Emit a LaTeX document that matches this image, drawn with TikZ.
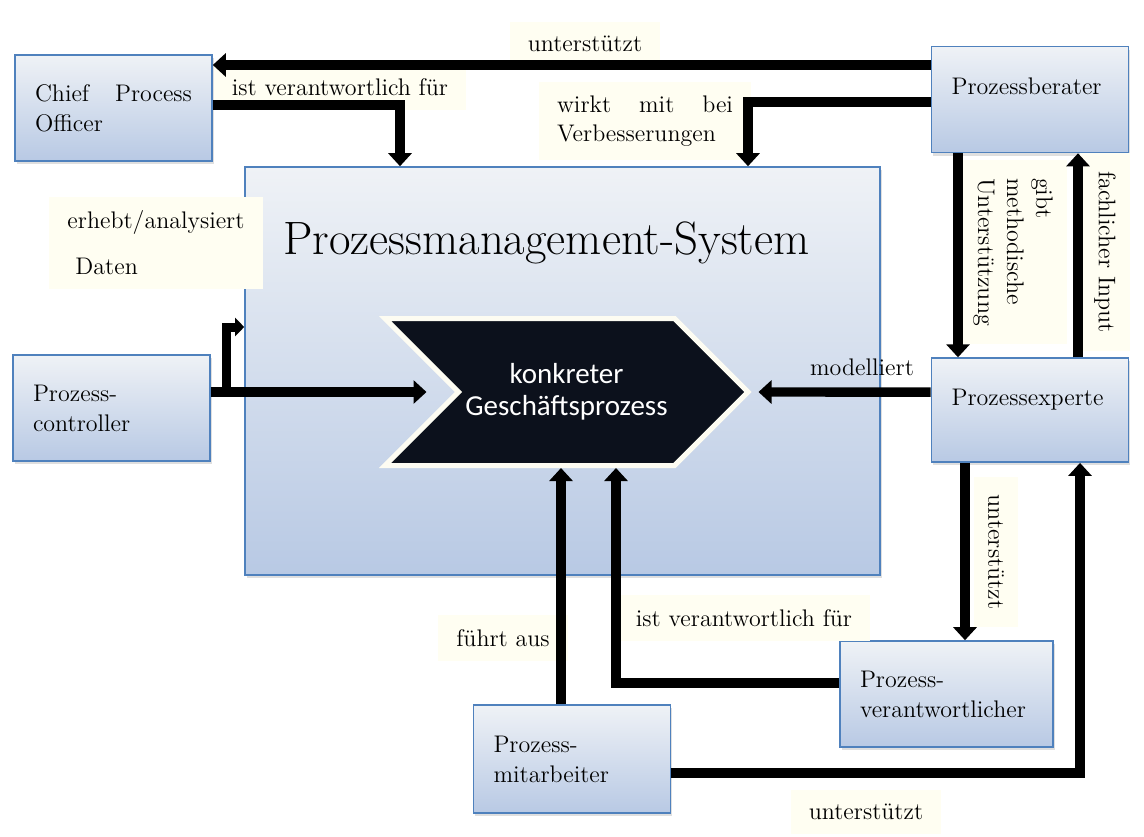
\documentclass[tikz,border=0pt]{standalone}
\usepackage{fontspec}
\usepackage{tikz}
\usetikzlibrary{positioning, arrows.meta, shapes.symbols, shadows}

\newfontfamily\calibri{Carlito}
\definecolor{boxblue}{RGB}{79,129,189}
\definecolor{boxtop}{RGB}{239,242,246}
\definecolor{boxbot}{RGB}{184,201,228}
\definecolor{labelbg}{RGB}{255,254,242}
\definecolor{procfill}{RGB}{12,17,28}
\definecolor{procrim}{RGB}{253,252,242}

\tikzset{
	actor/.style={draw=boxblue, line width=0.8pt, top color=boxtop, bottom color=boxbot,
		minimum height=53pt, text width=78.5pt, inner xsep=10pt, align=left,
		font=\fontsize{12}{15}\selectfont,
		drop shadow={opacity=0.25, shadow xshift=0.8pt, shadow yshift=-1.6pt}},
	lab/.style={fill=labelbg, inner xsep=9pt, inner ysep=7pt, font=\fontsize{12}{14.5}\selectfont},
	flow/.style={line width=4.7pt, -{Triangle[width=11.5pt,length=6.5pt]}},
	flowsmall/.style={line width=4.5pt, -{Triangle[width=9pt,length=4.5pt]}},
}

\begin{document}
\begin{tikzpicture}[x=0.5pt, y=-0.5pt]
		\useasboundingbox (0,0) rectangle (1144,836);
		% system box and process
		\node[draw=boxblue, line width=0.8pt, top color=boxtop, bottom color=boxbot,
			minimum width=317.5pt, minimum height=204pt,
			drop shadow={opacity=0.25, shadow xshift=0.8pt, shadow yshift=-1.6pt}] (sys) at (562.5,371) {};
		\node[font=\fontsize{23.4}{28}\selectfont] (title) at (546.5,243) {Prozessmanagement-System};
		\node[signal, signal from=west, signal to=east, signal pointer angle=90,
			fill=procfill, draw=procrim, line width=2.5pt, minimum width=181.5pt, minimum height=73.5pt,
			text=white, align=center, font=\calibri\fontsize{14.5}{16}\selectfont] (proc) at (566.5,392) {konkreter\\Geschäftsprozess};
		% roles
		\node[actor] (cpo) at (113.5,108) {Chief\hfill Process\\Officer};
		\node[actor, text depth=13pt] (pb) at (1030,99.5) {Prozessberater};
		\node[actor, text depth=13pt, minimum height=52pt, below=102pt of pb] (pe) {Prozessexperte};
		\node[actor] (pc) at (111.5,408) {Prozess-\\controller};
		\node[actor, text width=86.5pt] (pv) at (946.5,694) {Prozess-\\verantwortlicher};
		\node[actor, minimum height=54pt] (pm) at (572,759) {Prozess-\\mitarbeiter};
		% labels
		\node[lab] (l1) at (585,44) {unterstützt};
		\node[lab] (l2) at (340,87) {ist verantwortlich für};
		\node[lab, text width=88pt, align=left] (l3) at (645,121) {wirkt\hfill mit\hfill bei\\Verbesserungen};
		\node[lab, align=left, font=\fontsize{12}{23}\selectfont] (l4) at (156,243) {erhebt/analysiert\\\hspace{4pt}Daten};
		\node[lab, fill=none] (l5) at (862,367) {modelliert};
		\node[lab, rotate=-90, align=left] (l6) at (1013,252) {gibt\\methodische\\Unterstützung};
		\node[lab, rotate=-90] (l7) at (1105,252) {fachlicher Input};
		\node[lab, rotate=-90] (l8) at (996,552) {unterstützt};
		\node[lab] (l9) at (503,638) {führt aus};
		\node[lab] (l10) at (744,618) {ist verantwortlich für};
		\node[lab] (l11) at (866,812) {unterstützt};
		% connectors
		\draw[flow] ([yshift=17.25pt]pb.west) -- ([yshift=21.5pt]cpo.east);
		\draw[flow] ([yshift=1.5pt]cpo.east) -| ([xshift=-81.25pt]sys.north);
		\draw[flow] ([yshift=-1.25pt]pb.west) -| ([xshift=92.75pt]sys.north);
		\draw[flow] ([xshift=-36pt]pb.south) -- ([xshift=-36pt]pe.north);
		\draw[flow] ([xshift=24pt]pe.north) -- ([xshift=24pt]pb.south);
		\draw[flow] ([yshift=9pt]pe.west) -- ([xshift=96pt]proc.center);
		\draw[flow] ([yshift=8pt]pc.east) -- ([xshift=-70pt]proc.center);
		\draw[flowsmall] ([xshift=8pt,yshift=8pt]pc.east) |- ([yshift=22pt]sys.west);
		\draw[flow] ([xshift=-32.5pt]pe.south) -- ([xshift=9.25pt]pv.north);
		\draw[flow] ([yshift=-7pt]pm.east) -| ([xshift=25pt]pe.south);
		\draw[flow] ([xshift=-5.5pt]pm.north) -- ([xshift=-2.75pt,yshift=-38pt]proc.center);
		\draw[flow] ([yshift=5.5pt]pv.west) -| ([xshift=24.75pt,yshift=-38pt]proc.center);
	\end{tikzpicture}
\end{document}
